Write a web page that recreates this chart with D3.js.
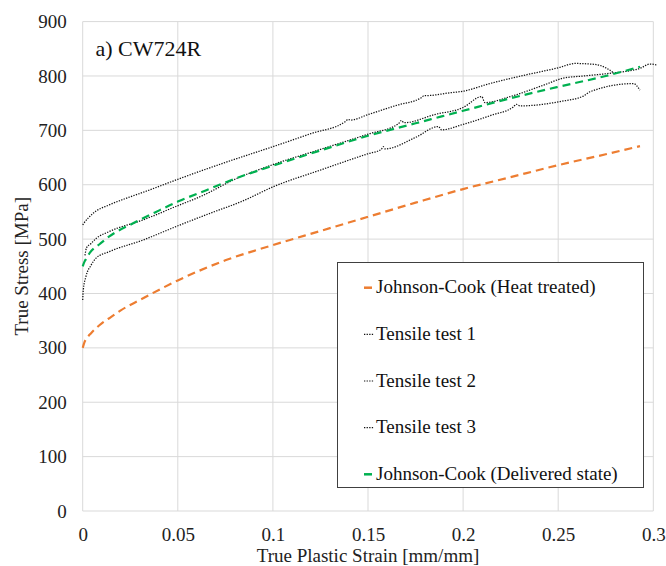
<!DOCTYPE html>
<html>
<head>
<meta charset="utf-8">
<script src="https://cdn.jsdelivr.net/npm/d3@7"></script>
<style>
  html, body { margin: 0; padding: 0; background: #fff; }
  svg { display: block; }
  svg text { font-family: "Liberation Serif", "Times New Roman", serif; }
</style>
</head>
<body>
<svg id="chart" width="666" height="566"></svg>
<script>
// Axis ticks
const xTicks = [0, 0.05, 0.1, 0.15, 0.2, 0.25, 0.3];
const xTickLabels = ["0", "0.05", "0.1", "0.15", "0.2", "0.25", "0.3"];
const yTicks = [0, 100, 200, 300, 400, 500, 600, 700, 800, 900];

// Johnson-Cook fit, heat treated material
const strainHT = [0, 0.001, 0.002, 0.0044, 0.01, 0.015, 0.02, 0.03, 0.05, 0.075, 0.1, 0.125, 0.15, 0.175, 0.2, 0.225, 0.25, 0.275, 0.293];
const stressHT = [300, 311, 317, 327, 345, 357, 369, 388, 424, 461, 489, 515, 541, 567, 592, 614, 636, 656, 671];

// Tensile test 1
const strainT1 = [0, 0.0008, 0.0053, 0.014, 0.0228, 0.0333, 0.05, 0.075, 0.1, 0.12, 0.138, 0.1395, 0.141, 0.15, 0.165, 0.178, 0.1795, 0.181, 0.193, 0.2, 0.214, 0.233, 0.25, 0.259, 0.27, 0.2755, 0.279];
const stressT1 = [526, 530, 547, 563, 575, 588, 610, 641, 670, 694, 716, 720, 719, 729, 746, 760, 764, 764, 769, 772, 786, 802, 815, 823, 821, 814, 806];

// Tensile test 2
const strainT2 = [0.0012, 0.002, 0.0044, 0.007, 0.014, 0.0315, 0.049, 0.063, 0.08, 0.1, 0.125, 0.15, 0.166, 0.1675, 0.169, 0.185, 0.2, 0.2098, 0.2115, 0.2247, 0.2422, 0.2527, 0.2632, 0.2772, 0.293, 0.2982, 0.3018];
const stressT2 = [470, 484, 492, 501, 514, 535, 560, 580, 610, 637, 665, 693, 712, 718, 714, 729, 742, 762, 751, 762, 783, 796, 800, 805, 814, 822, 820];

// Tensile test 3
const strainT3 = [0, 0.0003, 0.0017, 0.0044, 0.007, 0.014, 0.0315, 0.049, 0.0666, 0.0841, 0.1, 0.125, 0.15, 0.157, 0.158, 0.159, 0.175, 0.187, 0.1887, 0.2, 0.215, 0.2264, 0.228, 0.23, 0.251, 0.2632, 0.2667, 0.2895, 0.293];
const stressT3 = [388, 406, 431, 452, 465, 477, 498, 523, 547, 570, 596, 627, 657, 665, 670, 666, 687, 707, 701, 711, 728, 743, 748, 745, 753, 763, 771, 786, 774];

// Johnson-Cook fit, delivered state
const strainDS = [0, 0.001, 0.002, 0.004, 0.009, 0.014, 0.027, 0.038, 0.05, 0.065, 0.08, 0.1, 0.125, 0.15, 0.175, 0.2, 0.225, 0.25, 0.275, 0.293];
const stressDS = [450, 459, 465, 476, 491, 505, 530, 549, 569, 590, 611, 635, 663, 690, 713, 736, 759, 780, 800, 817];

const legendLabels = ["Johnson-Cook (Heat treated)", "Tensile test 1", "Tensile test 2", "Tensile test 3", "Johnson-Cook (Delivered state)"];

const zip = (xs, ys) => xs.map((x, i) => ({ x, y: ys[i] }));

const series = [
  { name: legendLabels[0], pts: zip(strainHT, stressHT), color: "#ED7D31", width: 2.2, dash: "8,5", kind: "dash" },
  { name: legendLabels[1], pts: zip(strainT1, stressT1), color: "#111", width: 1.25, dash: "1.3,1.3", kind: "dot" },
  { name: legendLabels[2], pts: zip(strainT2, stressT2), color: "#111", width: 1.25, dash: "1.3,1.3", kind: "dot" },
  { name: legendLabels[3], pts: zip(strainT3, stressT3), color: "#111", width: 1.25, dash: "1.3,1.3", kind: "dot" },
  { name: legendLabels[4], pts: zip(strainDS, stressDS), color: "#00B050", width: 2.2, dash: "8,5", kind: "dash" }
];

const svg = d3.select("#chart");
const plotL = 82.7, plotR = 653.3, plotT = 21.6, plotB = 511;
const serif = "'Liberation Serif', 'Times New Roman', serif";

const x = d3.scaleLinear().domain([0, 0.3]).range([plotL, plotR]);
const y = d3.scaleLinear().domain([0, 900]).range([plotB, plotT]);

// Gridlines
svg.append("g")
  .selectAll("line")
  .data(xTicks)
  .join("line")
  .attr("x1", d => x(d)).attr("x2", d => x(d))
  .attr("y1", plotT).attr("y2", plotB)
  .attr("stroke", "#d9d9d9").attr("stroke-width", 1);

svg.append("g")
  .selectAll("line")
  .data(yTicks)
  .join("line")
  .attr("x1", plotL).attr("x2", plotR)
  .attr("y1", d => y(d)).attr("y2", d => y(d))
  .attr("stroke", "#d9d9d9").attr("stroke-width", 1);

// Axes (labels only)
const xAxis = svg.append("g")
  .attr("transform", `translate(0,${plotB})`)
  .call(d3.axisBottom(x).tickValues(xTicks).tickSize(0).tickPadding(17)
    .tickFormat((d, i) => xTickLabels[i]));
const yAxis = svg.append("g")
  .attr("transform", `translate(${plotL},0)`)
  .call(d3.axisLeft(y).tickValues(yTicks).tickSize(0).tickPadding(16)
    .tickFormat(d3.format("d")));
[xAxis, yAxis].forEach(g => {
  g.attr("font-family", null).attr("font-size", null);
  g.select(".domain").remove();
  g.selectAll("text")
    .style("font-family", serif)
    .style("font-size", "19px")
    .attr("fill", "#222");
});

// Curves
const line = d3.line().x(d => x(d.x)).y(d => y(d.y)).curve(d3.curveMonotoneX);
const plot = svg.append("g");
series.forEach(s => {
  plot.append("path")
    .datum(s.pts)
    .attr("d", line)
    .attr("fill", "none")
    .attr("stroke", s.color)
    .attr("stroke-width", s.width)
    .attr("stroke-dasharray", s.dash)
    .attr("stroke-linecap", "butt");
});

// Panel title
svg.append("text")
  .attr("x", 95.5).attr("y", 56)
  .style("font-size", "22px").attr("fill", "#111")
  .text("a) CW724R");

// Axis titles
svg.append("text")
  .attr("x", (plotL + plotR) / 2).attr("y", 562)
  .attr("text-anchor", "middle").style("font-size", "19px").attr("fill", "#222")
  .text("True Plastic Strain [mm/mm]");
svg.append("text")
  .attr("transform", `translate(28,${(plotT + plotB) / 2}) rotate(-90)`)
  .attr("text-anchor", "middle").style("font-size", "19px").attr("fill", "#222")
  .text("True Stress [MPa]");

// Legend
const lg = svg.append("g");
lg.append("rect")
  .attr("x", 337.5).attr("y", 262.5).attr("width", 306).attr("height", 225)
  .attr("fill", "#fff").attr("stroke", "#404040").attr("stroke-width", 1);
const rowY = d3.scalePoint().domain(legendLabels).range([286.7, 473.3]);
series.forEach(s => {
  const cy = rowY(s.name);
  lg.append("line")
    .attr("x1", 364).attr("x2", s.kind === "dash" ? 372 : 373.5)
    .attr("y1", cy + 1).attr("y2", cy + 1)
    .attr("stroke", s.color)
    .attr("stroke-width", s.kind === "dash" ? 2.5 : 1.2)
    .attr("stroke-dasharray", s.kind === "dash" ? null : "1.3,1.3");
  lg.append("text")
    .attr("x", 376).attr("y", cy).attr("dy", "0.35em")
    .style("font-size", "19px").attr("fill", "#111")
    .text(s.name);
});
</script>
</body>
</html>
